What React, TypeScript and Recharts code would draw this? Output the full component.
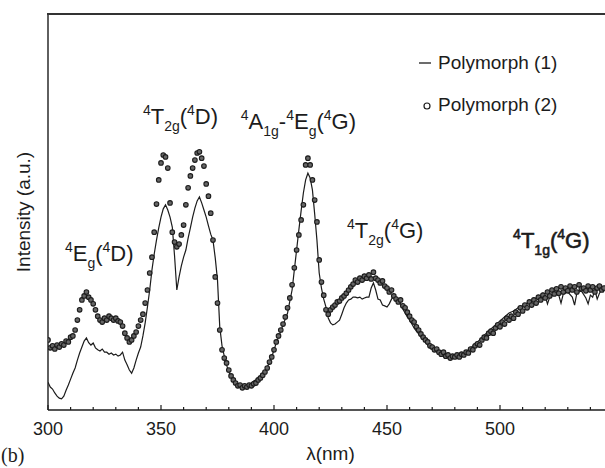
import React from "react";
import {
  ComposedChart,
  Line,
  Scatter,
  XAxis,
  YAxis,
  ReferenceDot,
} from "recharts";

// Polymorph (1): solid trace
const p1Wl = [
  300, 301, 302, 303, 304, 305, 306, 307, 308, 309,
  310, 311, 312, 313, 314, 315, 316, 317, 318, 319,
  320, 321, 322, 323, 324, 325, 326, 327, 328, 329,
  330, 331, 332, 333, 334, 335, 336, 337, 338, 339,
  340, 341, 342, 343, 344, 345, 346, 347, 348, 349,
  350, 351, 352, 353, 354, 355, 356, 357, 358, 359,
  360, 361, 362, 363, 364, 365, 366, 367, 368, 369,
  370, 371, 372, 373, 374, 375, 376, 377, 378, 379,
  380, 381, 382, 383, 384, 385, 386, 387, 388, 389,
  390, 391, 392, 393, 394, 395, 396, 397, 398, 399,
  400, 401, 402, 403, 404, 405, 406, 407, 408, 409,
  410, 411, 412, 413, 414, 415, 416, 417, 418, 419,
  420, 421, 422, 423, 424, 425, 426, 427, 428, 429,
  430, 431, 432, 433, 434, 435, 436, 437, 438, 439,
  440, 441, 442, 443, 444, 445, 446, 447, 448, 449,
  450, 451, 452, 453, 454, 455, 456, 457, 458, 459,
  460, 461, 462, 463, 464, 465, 466, 467, 468, 469,
  470, 471, 472, 473, 474, 475, 476, 477, 478, 479,
  480, 481, 482, 483, 484, 485, 486, 487, 488, 489,
  490, 491, 492, 493, 494, 495, 496, 497, 498, 499,
  500, 502, 504, 506, 508, 510, 512, 514, 516, 518,
  519, 520, 521, 522, 524, 526, 527, 528, 530, 532,
  533, 534, 536, 538, 539, 540, 541, 542, 543, 544,
  545, 546,
];
const p1Int = [
  7.0, 5.8, 5.3, 4.3, 3.5, 3.0, 2.8, 3.5, 5.0, 6.3,
  7.8, 9.3, 10.6, 12.6, 14.4, 15.9, 17.4, 18.2, 17.0, 16.4,
  16.9, 15.7, 15.2, 14.9, 15.4, 14.6, 14.6, 14.1, 14.4, 13.9,
  14.1, 13.6, 13.9, 14.6, 12.6, 11.4, 10.1, 9.3, 10.6, 12.6,
  14.4, 15.9, 18.7, 22.0, 26.0, 30.3, 35.4, 39.4, 42.9, 46.0,
  48.7, 50.8, 51.8, 50.5, 48.7, 46.2, 38.9, 30.3, 33.6, 36.4,
  38.6, 40.4, 43.4, 46.0, 48.7, 51.0, 52.8, 53.8, 52.3, 50.5,
  48.7, 46.5, 44.4, 42.9, 38.4, 32.8, 21.0, 16.2, 13.6, 11.4,
  9.6, 8.6, 7.6, 7.1, 6.6, 6.3, 6.3, 6.1, 6.3, 6.6,
  6.8, 7.3, 7.6, 8.1, 8.3, 9.1, 9.8, 10.9, 11.9, 13.4,
  15.2, 16.9, 18.4, 19.9, 21.5, 23.0, 24.5, 27.5, 30.3, 35.4,
  40.4, 45.5, 50.3, 54.8, 58.1, 59.8, 58.6, 55.6, 49.5, 42.9,
  34.6, 30.8, 28.0, 26.0, 23.2, 22.0, 21.5, 21.7, 22.2, 22.7,
  24.2, 25.8, 27.0, 27.8, 28.0, 28.5, 28.5, 28.3, 28.5, 28.0,
  28.3, 28.5, 28.5, 30.8, 32.1, 30.3, 28.0, 27.8, 26.5, 26.3,
  26.0, 26.8, 28.0, 28.8, 28.5, 27.5, 26.8, 25.5, 24.5, 23.5,
  22.7, 21.7, 20.7, 19.9, 19.2, 18.4, 17.7, 17.2, 16.4, 15.9,
  15.4, 15.2, 14.6, 14.4, 14.1, 13.6, 13.4, 13.1, 13.4, 13.1,
  13.4, 13.6, 13.9, 14.1, 14.4, 14.6, 15.2, 15.7, 16.2, 16.7,
  17.2, 17.7, 18.2, 18.9, 19.4, 19.9, 20.5, 21.0, 21.5, 22.0,
  22.5, 23.5, 24.5, 25.0, 25.8, 26.3, 27.0, 27.5, 28.3, 29.0,
  29.5, 28.8, 26.8, 28.5, 29.5, 29.0, 27.0, 29.3, 29.8, 28.5,
  26.5, 29.5, 30.1, 28.3, 26.8, 29.0, 28.5, 30.3, 28.0, 29.5,
  30.3, 29.8,
];

// Polymorph (2): open markers
const p2Wl = [
  300, 301, 302, 303, 304, 305, 306, 307, 308, 309,
  310, 311, 312, 313, 314, 315, 316, 317, 318, 319,
  320, 321, 322, 323, 324, 325, 326, 327, 328, 329,
  330, 331, 332, 333, 334, 335, 336, 337, 338, 339,
  340, 341, 342, 343, 344, 345, 346, 347, 348, 349,
  350, 351, 352, 353, 354, 355, 356, 357, 358, 359,
  360, 361, 362, 363, 364, 365, 366, 367, 368, 369,
  370, 371, 372, 373, 374, 375, 376, 377, 378, 379,
  380, 381, 382, 383, 384, 385, 386, 387, 388, 389,
  390, 391, 392, 393, 394, 395, 396, 397, 398, 399,
  400, 401, 402, 403, 404, 405, 406, 407, 408, 409,
  410, 411, 412, 413, 414, 415, 416, 417, 418, 419,
  420, 421, 422, 423, 424, 425, 426, 427, 428, 429,
  430, 431, 432, 433, 434, 435, 436, 437, 438, 439,
  440, 441, 442, 443, 444, 445, 446, 447, 448, 449,
  450, 451, 452, 453, 454, 455, 456, 457, 458, 459,
  460, 461, 462, 463, 464, 465, 466, 467, 468, 469,
  470, 471, 472, 473, 474, 475, 476, 477, 478, 479,
  480, 481, 482, 483, 484, 485, 486, 487, 488, 489,
  490, 491, 492, 493, 494, 495, 496, 497, 498, 499,
  500, 501, 502, 503, 504, 505, 506, 507, 508, 509,
  510, 511, 512, 513, 514, 515, 516, 517, 518, 519,
  520, 521, 522, 523, 524, 525, 526, 527, 528, 529,
  530, 531, 532, 533, 534, 535, 536, 537, 538, 539,
  540, 541, 542, 543, 544, 545, 546,
];
const p2Int = [
  17.7, 15.7, 16.2, 15.4, 16.4, 15.9, 16.7, 16.4, 17.4, 17.2,
  18.4, 18.7, 20.2, 22.7, 25.3, 27.8, 28.8, 29.8, 28.5, 27.8,
  26.8, 25.3, 23.7, 22.7, 22.2, 23.2, 22.7, 23.7, 23.2, 22.7,
  23.2, 22.5, 22.2, 21.2, 19.4, 18.2, 17.2, 17.7, 18.7, 19.7,
  21.2, 22.7, 24.2, 27.0, 30.3, 34.6, 38.6, 44.9, 52.0, 58.1,
  62.4, 64.4, 63.9, 61.1, 52.3, 44.9, 42.4, 41.2, 41.9, 44.2,
  46.7, 51.8, 56.1, 59.1, 61.1, 63.1, 64.9, 65.2, 63.6, 61.6,
  57.1, 54.0, 49.7, 42.9, 33.6, 27.0, 20.2, 15.2, 13.1, 11.9,
  10.1, 8.6, 7.6, 6.8, 6.1, 6.3, 5.6, 6.1, 5.8, 6.3,
  6.1, 6.6, 6.8, 7.6, 8.1, 8.8, 9.6, 10.6, 12.1, 13.4,
  15.2, 17.2, 18.7, 20.2, 21.7, 23.5, 25.8, 28.3, 31.6, 35.9,
  40.4, 44.2, 48.0, 51.8, 61.9, 63.6, 61.9, 58.1, 53.0, 47.5,
  37.9, 32.3, 29.0, 25.3, 24.2, 25.3, 26.0, 26.5, 27.3, 27.5,
  28.3, 28.8, 29.5, 30.3, 31.1, 31.8, 32.8, 32.3, 33.3, 32.8,
  33.8, 33.3, 34.1, 33.1, 34.8, 33.3, 32.8, 32.1, 32.6, 31.3,
  30.8, 29.8, 30.3, 28.8, 28.0, 27.3, 27.8, 26.3, 25.8, 24.7,
  23.7, 22.7, 22.2, 21.0, 20.2, 19.2, 18.4, 17.7, 17.2, 16.2,
  15.9, 15.2, 15.4, 14.6, 14.1, 14.6, 13.6, 13.9, 13.1, 13.6,
  13.4, 13.9, 13.4, 14.1, 13.9, 14.6, 14.4, 15.4, 15.2, 16.2,
  16.7, 16.4, 17.7, 18.4, 18.2, 19.4, 19.9, 19.4, 20.7, 21.5,
  21.0, 22.2, 21.7, 23.2, 22.7, 23.7, 23.2, 24.7, 24.2, 25.8,
  25.0, 26.5, 25.8, 27.3, 26.5, 27.8, 27.0, 28.5, 27.8, 29.0,
  28.3, 29.8, 28.8, 30.3, 29.3, 30.6, 29.5, 31.1, 29.8, 30.8,
  30.1, 31.3, 30.3, 31.1, 29.8, 31.6, 30.6, 30.8, 30.1, 31.3,
  30.3, 31.1, 29.8, 30.8, 31.3, 30.3, 30.8,
];

const xTicks = [
  300, 310, 320, 330, 340, 350, 360, 370, 380, 390, 400, 410, 420,
  430, 440, 450, 460, 470, 480, 490, 500, 510, 520, 530, 540,
];
const xTickLabels = ["300", "350", "400", "450", "500"];
const seriesNames = ["Polymorph (1)", "Polymorph (2)"];

// band labels: wavelength at text start, intensity at baseline, text parts
type Part = [string, string];
const bandLabels: { x: number; y: number; heavy?: boolean; parts: Part[] }[] = [
  { x: 307.5, y: 37.6, parts: [["sup", "4"], ["n", "E"], ["sub", "g"], ["n", "("], ["sup", "4"], ["n", "D)"]] },
  { x: 342, y: 72.3, parts: [["sup", "4"], ["n", "T"], ["sub", "2g"], ["n", "("], ["sup", "4"], ["n", "D)"]] },
  { x: 385.3, y: 71.0, parts: [["sup", "4"], ["n", "A"], ["sub", "1g"], ["n", "-"], ["sup", "4"], ["n", "E"], ["sub", "g"], ["n", "("], ["sup", "4"], ["n", "G)"]] },
  { x: 432.3, y: 43.4, parts: [["sup", "4"], ["n", "T"], ["sub", "2g"], ["n", "("], ["sup", "4"], ["n", "G)"]] },
  { x: 505.8, y: 40.9, heavy: true, parts: [["sup", "4"], ["n", "T"], ["sub", "1g"], ["n", "("], ["sup", "4"], ["n", "G)"]] },
];

const p1Data = p1Wl.map((nm, i) => ({ nm, v: p1Int[i] }));
const p2Data = p2Wl.map((nm, i) => ({ nm, v: p2Int[i] }));

const FONT = "'Liberation Sans', Arial, Helvetica, sans-serif";
const INK = "#1c1c1c";

function BandLabel({ viewBox, parts, heavy }: any) {
  const x0 = viewBox?.x ?? 0;
  const y0 = viewBox?.y ?? 0;
  const shift: Record<string, number> = { n: 0, sup: -9, sub: 7 };
  let cur = 0;
  return (
    <text
      x={x0}
      y={y0}
      fontFamily={FONT}
      fill={INK}
      stroke={heavy ? INK : "none"}
      strokeWidth={heavy ? 0.6 : 0}
    >
      {parts.map(([kind, t]: Part, i: number) => {
        const dy = shift[kind] - cur;
        cur = shift[kind];
        return (
          <tspan key={i} dy={dy} fontSize={kind === "n" ? 22 : 14}>
            {t}
          </tspan>
        );
      })}
    </text>
  );
}

function XTick({ x, y, payload }: any) {
  const v = payload.value;
  const major = xTickLabels.includes(String(v));
  return (
    <g>
      <line x1={x} x2={x} y1={y} y2={y - (major ? 5 : 3)} stroke={INK} strokeWidth={1.2} />
      {major && (
        <text x={x} y={y + 25} textAnchor="middle" fontFamily={FONT} fontSize={18} fill={INK}>
          {String(v)}
        </text>
      )}
    </g>
  );
}

// y title, plus the top edge of the plot frame drawn from the axis box
function YTitle({ viewBox }: any) {
  const cx = viewBox.x + 15;
  const cy = viewBox.y + viewBox.height / 2;
  const left = viewBox.x + viewBox.width;
  return (
    <g>
      <line x1={left} x2={left + 600} y1={viewBox.y} y2={viewBox.y} stroke="#333" strokeWidth={1.6} />
      <text
        x={cx}
        y={cy}
        transform={`rotate(-90, ${cx}, ${cy})`}
        textAnchor="middle"
        dominantBaseline="central"
        fontFamily={FONT}
        fontSize={19}
        fill={INK}
      >
        Intensity (a.u.)
      </text>
    </g>
  );
}

function Marker({ cx, cy }: any) {
  return <circle cx={cx} cy={cy} r={2.3} fill="#666" stroke={INK} strokeWidth={1.1} />;
}

function LegendBox() {
  const row: React.CSSProperties = {
    display: "flex",
    alignItems: "center",
    height: 22,
    fontFamily: FONT,
    fontSize: 19,
    color: INK,
    lineHeight: "22px",
  };
  return (
    <div style={{ position: "absolute", top: 52, left: 415 }}>
      <div style={row}>
        <svg width={23} height={22}>
          <line x1={4} x2={16} y1={11} y2={11} stroke={INK} strokeWidth={1.3} />
        </svg>
        <span>{seriesNames[0]}</span>
      </div>
      <div style={{ ...row, marginTop: 20 }}>
        <svg width={23} height={22}>
          <circle cx={12} cy={12} r={3} fill="none" stroke={INK} strokeWidth={1.2} />
        </svg>
        <span>{seriesNames[1]}</span>
      </div>
    </div>
  );
}

export default function App() {
  return (
    <div
      style={{
        position: "fixed",
        left: 0,
        top: 0,
        width: 605,
        height: 468,
        overflow: "hidden",
        background: "#fff",
      }}
    >
      <ComposedChart width={613} height={468} margin={{ top: 14, right: 0, bottom: 0, left: 8 }}>
        <XAxis
          dataKey="nm"
          type="number"
          domain={[300, 550]}
          ticks={xTicks}
          allowDataOverflow
          height={58}
          tickSize={0}
          tickMargin={0}
          tickLine={false}
          axisLine={{ stroke: INK, strokeWidth: 1.4 }}
          tick={<XTick />}
          interval={0}
          label={{
            value: "λ(nm)",
            position: "insideBottom",
            offset: 8,
            style: { fontFamily: FONT, fontSize: 19, fill: INK },
          }}
        />
        <YAxis
          type="number"
          domain={[0, 100]}
          allowDataOverflow
          width={40}
          tick={false}
          tickLine={false}
          axisLine={{ stroke: INK, strokeWidth: 1.4 }}
          label={<YTitle />}
        />
        <Scatter
          name={seriesNames[1]}
          data={p2Data}
          dataKey="v"
          shape={<Marker />}
          isAnimationActive={false}
        />
        <Line
          name={seriesNames[0]}
          data={p1Data}
          dataKey="v"
          type="linear"
          stroke={INK}
          strokeWidth={1.2}
          dot={false}
          isAnimationActive={false}
        />
        {bandLabels.map((b, i) => (
          <ReferenceDot
            key={i}
            x={b.x}
            y={b.y}
            r={0}
            fill="none"
            stroke="none"
            label={(props: any) => <BandLabel {...props} parts={b.parts} heavy={b.heavy} />}
          />
        ))}
      </ComposedChart>
      {/* top frame edge, as a fallback */}
      <div
        style={{
          position: "absolute",
          left: 47,
          top: 13,
          width: 570,
          height: 2,
          background: "#333",
        }}
      />
      <LegendBox />
      <div
        style={{
          position: "absolute",
          left: 1,
          top: 444,
          fontFamily: "'Liberation Serif', 'Times New Roman', serif",
          fontSize: 20,
          color: INK,
        }}
      >
        (b)
      </div>
    </div>
  );
}
